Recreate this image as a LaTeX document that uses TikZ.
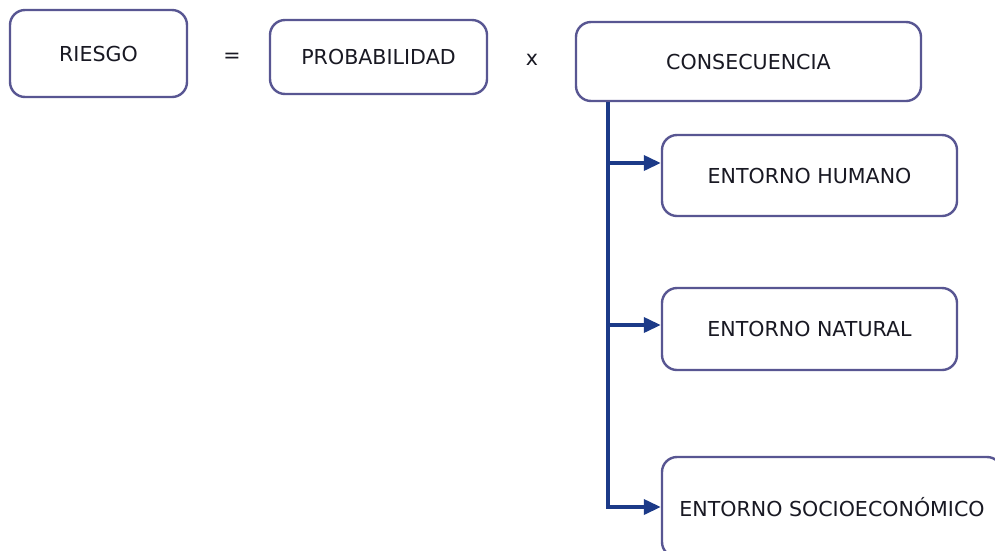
\documentclass[tikz,border=0pt]{standalone}
\usepackage{fontspec}
\setmainfont{DejaVu Sans}
\usetikzlibrary{arrows.meta}
\definecolor{boxline}{RGB}{88,86,146}
\definecolor{conn}{RGB}{28,58,136}
\definecolor{txt}{RGB}{25,25,35}
\begin{document}
\begin{tikzpicture}[x=1pt,y=-1pt,
  box/.style={draw=boxline,line width=2.4pt,rounded corners=15pt,fill=white,
    inner sep=0pt,font=\fontsize{20.6}{23}\selectfont,text=txt},
  opsym/.style={font=\fontsize{20.6}{23}\selectfont,text=txt,inner sep=0pt},
  trunk/.style={draw=conn,line width=3.6pt},
  branch/.style={draw=conn,line width=3.6pt,-{Triangle[length=17pt,width=15pt]}}]
\useasboundingbox (0,0) rectangle (995,550);
\node[box,minimum width=177pt,minimum height=87pt] (riesgo) at (98.5,53.5) {RIESGO};
\node[opsym] (eq) at (232,58) {=};
\node[box,minimum width=217pt,minimum height=74pt] (prob) at (378.5,57) {PROBABILIDAD};
\node[opsym] (por) at (532,60) {x};
\node[box,minimum width=345pt,minimum height=79pt] (cons) at (748.5,61.5) {CONSECUENCIA};
\node[box,minimum width=295pt,minimum height=81pt] (eh) at (809.5,175.5) {ENTORNO HUMANO};
\node[box,minimum width=295pt,minimum height=82pt] (en) at (809.5,329) {ENTORNO NATURAL};
\node[box,minimum width=340pt,minimum height=100pt] (es) at (832,507) {ENTORNO SOCIOECONÓMICO};
\coordinate (t0) at (cons.south west -| 608,0);
\coordinate (t1) at (608,163);
\coordinate (t2) at (608,325);
\coordinate (t3) at (608,507);
\draw[trunk] (t0) -- (t3);
\draw[branch] (t1) -- (t1 -| eh.west);
\draw[branch] (t2) -- (t2 -| en.west);
\draw[branch] ([xshift=-1.8pt]t3) -- (t3 -| es.west);
\end{tikzpicture}
\end{document}
